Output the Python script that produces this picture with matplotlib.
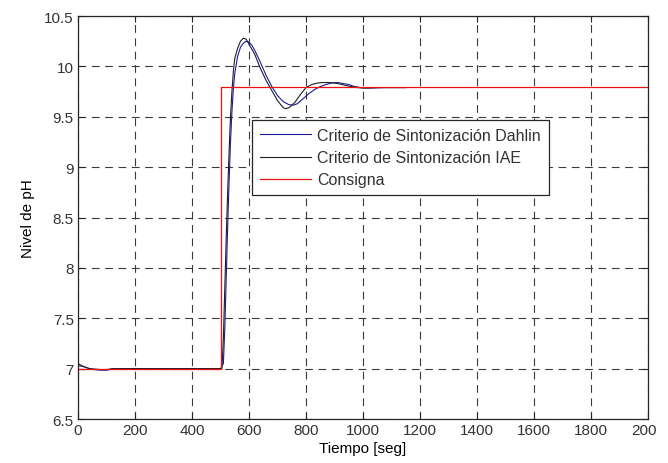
import matplotlib

matplotlib.use("Agg")
import matplotlib.pyplot as plt
from matplotlib.transforms import Bbox

# Consigna (setpoint)
t_sp = [0, 500, 500, 2000]
ph_sp = [7.0, 7.0, 9.8, 9.8]

# Criterio de Sintonizacion Dahlin (blue)
t_dahlin = [0, 20, 40, 60, 80, 100, 120, 150, 200, 300, 400, 500, 510, 515, 520,
            525, 530, 535, 540, 545, 550, 560, 570, 580, 590, 600, 610, 620, 640,
            660, 680, 700, 720, 740, 755, 770, 790, 810, 830, 850, 870, 890, 910,
            930, 950, 970, 990, 1020, 1080, 1150]
ph_dahlin = [7.05, 7.02, 7.0, 6.99, 6.985, 6.985, 6.995, 7.0, 7.0, 7.0, 7.0, 7.0,
             7.05, 7.4, 7.9, 8.4, 8.85, 9.25, 9.55, 9.78, 9.93, 10.1, 10.19, 10.23,
             10.25, 10.24, 10.21, 10.16, 10.04, 9.91, 9.8, 9.71, 9.65, 9.62, 9.615,
             9.63, 9.68, 9.73, 9.77, 9.8, 9.82, 9.835, 9.84, 9.83, 9.82, 9.8, 9.79,
             9.785, 9.79, 9.79]

# Criterio de Sintonizacion IAE (black)
t_iae = [0, 20, 40, 60, 80, 100, 120, 150, 200, 300, 400, 500, 505, 510, 515, 520,
         525, 530, 535, 540, 545, 550, 560, 570, 580, 590, 600, 610, 620, 640, 660,
         680, 700, 720, 730, 740, 760, 780, 800, 820, 840, 860, 880, 900, 920, 940,
         960, 980, 1000, 1050, 1100, 1150]
ph_iae = [7.03, 7.02, 7.0, 6.995, 6.99, 6.99, 7.0, 7.0, 7.0, 7.0, 7.0, 7.0, 7.0,
          7.3, 7.8, 8.3, 8.75, 9.15, 9.5, 9.75, 9.95, 10.08, 10.18, 10.25, 10.28,
          10.27, 10.22, 10.17, 10.12, 9.98, 9.86, 9.76, 9.66, 9.59, 9.58, 9.59,
          9.64, 9.72, 9.79, 9.82, 9.835, 9.84, 9.84, 9.835, 9.825, 9.81, 9.8, 9.79,
          9.785, 9.79, 9.79, 9.79]

x_ticks = list(range(0, 2001, 200))
y_ticks = [6.5, 7, 7.5, 8, 8.5, 9, 9.5, 10, 10.5]
y_tick_labels = ["6.5", "7", "7.5", "8", "8.5", "9", "9.5", "10", "10.5"]

plt.rcParams.update({
    "font.family": ["Liberation Sans", "DejaVu Sans"],
    "font.size": 11,
    "text.color": "#333333",
    "xtick.color": "#262626",
    "ytick.color": "#262626",
    "xtick.labelcolor": "#333333",
    "ytick.labelcolor": "#333333",
})

fig = plt.figure(figsize=(6.68, 4.64), dpi=100)
ax = fig.add_axes([0.1168, 0.0948, 0.8533, 0.8685])

ax.plot(t_dahlin, ph_dahlin, color="#1a1aa0", lw=0.8,
        label="Criterio de Sintonización Dahlin")
ax.plot(t_iae, ph_iae, color="#202020", lw=0.8,
        label="Criterio de Sintonización IAE")
ax.plot(t_sp, ph_sp, color="#ee1111", lw=0.9, label="Consigna")

ax.set_xlim(0, 2000)
ax.set_ylim(6.5, 10.5)
ax.set_xticks(x_ticks)
ax.set_yticks(y_ticks)
ax.set_yticklabels(y_tick_labels)
ax.tick_params(direction="in", top=True, right=True, length=4, width=0.8, pad=3)
ax.grid(True, color="#3a3a3a", lw=0.8, ls=(0, (7, 5)))
for s in ax.spines.values():
    s.set_color("#262626")
    s.set_linewidth(0.9)

ax.set_xlabel("Tiempo [seg]", labelpad=3)
ax.set_ylabel("Nivel de pH", labelpad=7)

leg = ax.legend(loc="upper left", bbox_to_anchor=(0.305, 0.742), fancybox=False,
                framealpha=1, edgecolor="#262626", handlelength=3.2,
                labelspacing=0.45, borderpad=0.5, handletextpad=0.4,
                borderaxespad=0, fontsize=11.5)
leg.get_frame().set_linewidth(0.9)

# the source screenshot is cropped just past the right spine, cutting "2000"
for lab in ax.get_xticklabels():
    lab.set_clip_box(Bbox.from_extents(0, 0, 656, 464))
    lab.set_clip_on(True)

fig.savefig("out.png", dpi=100)
